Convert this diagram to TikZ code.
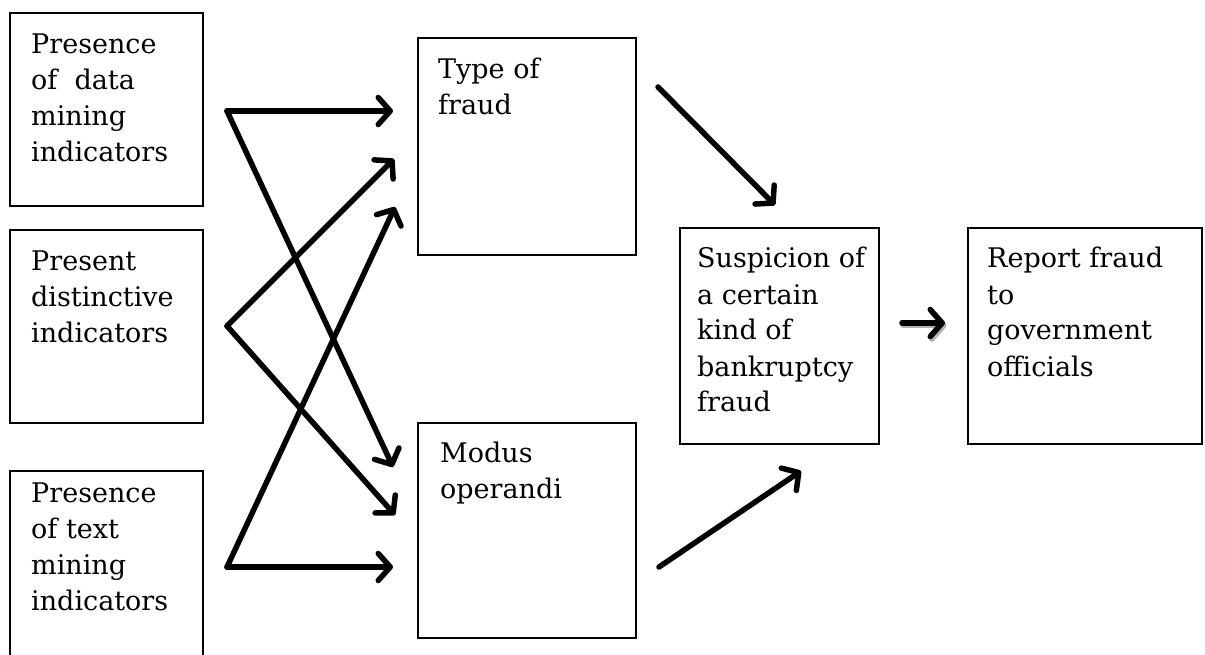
\documentclass[tikz,border=0pt]{standalone}
\usepackage{fontspec}
\setmainfont{DejaVu Serif}
\usetikzlibrary{arrows.meta}
\newcommand\boxlines[1]{\parbox[t]{8cm}{\raggedright #1}}
\begin{document}
\begin{tikzpicture}[x=1pt,y=-1pt,
  boxnode/.style={draw=black,line width=2pt,inner sep=0pt,outer sep=0pt},
  boxtext/.style={anchor=base west,inner sep=0pt,font=\fontsize{27}{36}\selectfont},
  flow/.style={line width=5.5pt,line cap=round,-{Straight Barb[length=12pt,width=27pt,line cap=round,line join=round]}},
  shadowflow/.style={flow,draw=black!30}]
\clip (0,0) rectangle (1205,655);
\fill[white] (0,0) rectangle (1205,655);
% boxes
\node[boxnode,minimum width=193pt,minimum height=193pt] (b1) at (106.5,109.5) {};
\node[boxnode,minimum width=193pt,minimum height=193pt] (b2) at (106.5,326.5) {};
\node[boxnode,minimum width=193pt,minimum height=193pt] (b3) at (106.5,567.5) {};
\node[boxnode,minimum width=218pt,minimum height=217pt] (type) at (527,146.5) {};
\node[boxnode,minimum width=218pt,minimum height=215pt] (modus) at (527,530.5) {};
\node[boxnode,minimum width=199pt,minimum height=216pt] (susp) at (779.5,336) {};
\node[boxnode,minimum width=234pt,minimum height=216pt] (report) at (1085,336) {};
% texts
\node[boxtext] (t1) at (31,54) {\boxlines{Presence\\of\ \ data\\mining\\indicators}};
\node[boxtext] (t2) at (31,270) {\boxlines{Present\\distinctive\\indicators}};
\node[boxtext] (t3) at (31,502) {\boxlines{Presence\\of text\\mining\\indicators}};
\node[boxtext] (ttype) at (438,79) {\boxlines{Type of\\fraud}};
\node[boxtext] (tmodus) at (440,462) {\boxlines{Modus\\operandi}};
\node[boxtext] (tsusp) at (697,268) {\boxlines{Suspicion of\\a certain\\kind of\\bankruptcy\\fraud}};
\node[boxtext] (treport) at (987,268) {\boxlines{Report fraud\\to\\government\\officials}};
% arrow end points
\coordinate (s1) at (227,111);
\coordinate (s2) at (227,326);
\coordinate (s3) at (227,567);
\coordinate (e1) at (393,111);
\coordinate (e2) at (393,467);
\coordinate (e3) at (394,159);
\coordinate (e4) at (395,515);
\coordinate (e5) at (395,207);
\coordinate (e6) at (393,567);
\coordinate (s7) at (658,87);
\coordinate (e7) at (775,205);
\coordinate (s8) at (659,567);
\coordinate (e8) at (801,471);
\coordinate (s9) at (902,323);
\coordinate (e9) at (945,323);
\coordinate (s9s) at (903.5,325.5);
\coordinate (e9s) at (946.5,325.5);
% arrows
\draw[flow] (s1) -- (e1);
\draw[flow] (s1) -- (e2);
\draw[flow] (s2) -- (e3);
\draw[flow] (s2) -- (e4);
\draw[flow] (s3) -- (e5);
\draw[flow] (s3) -- (e6);
\draw[flow] (s7) -- (e7);
\draw[flow] (s8) -- (e8);
\draw[shadowflow] (s9s) -- (e9s);
\draw[flow] (s9) -- (e9);
\end{tikzpicture}
\end{document}
